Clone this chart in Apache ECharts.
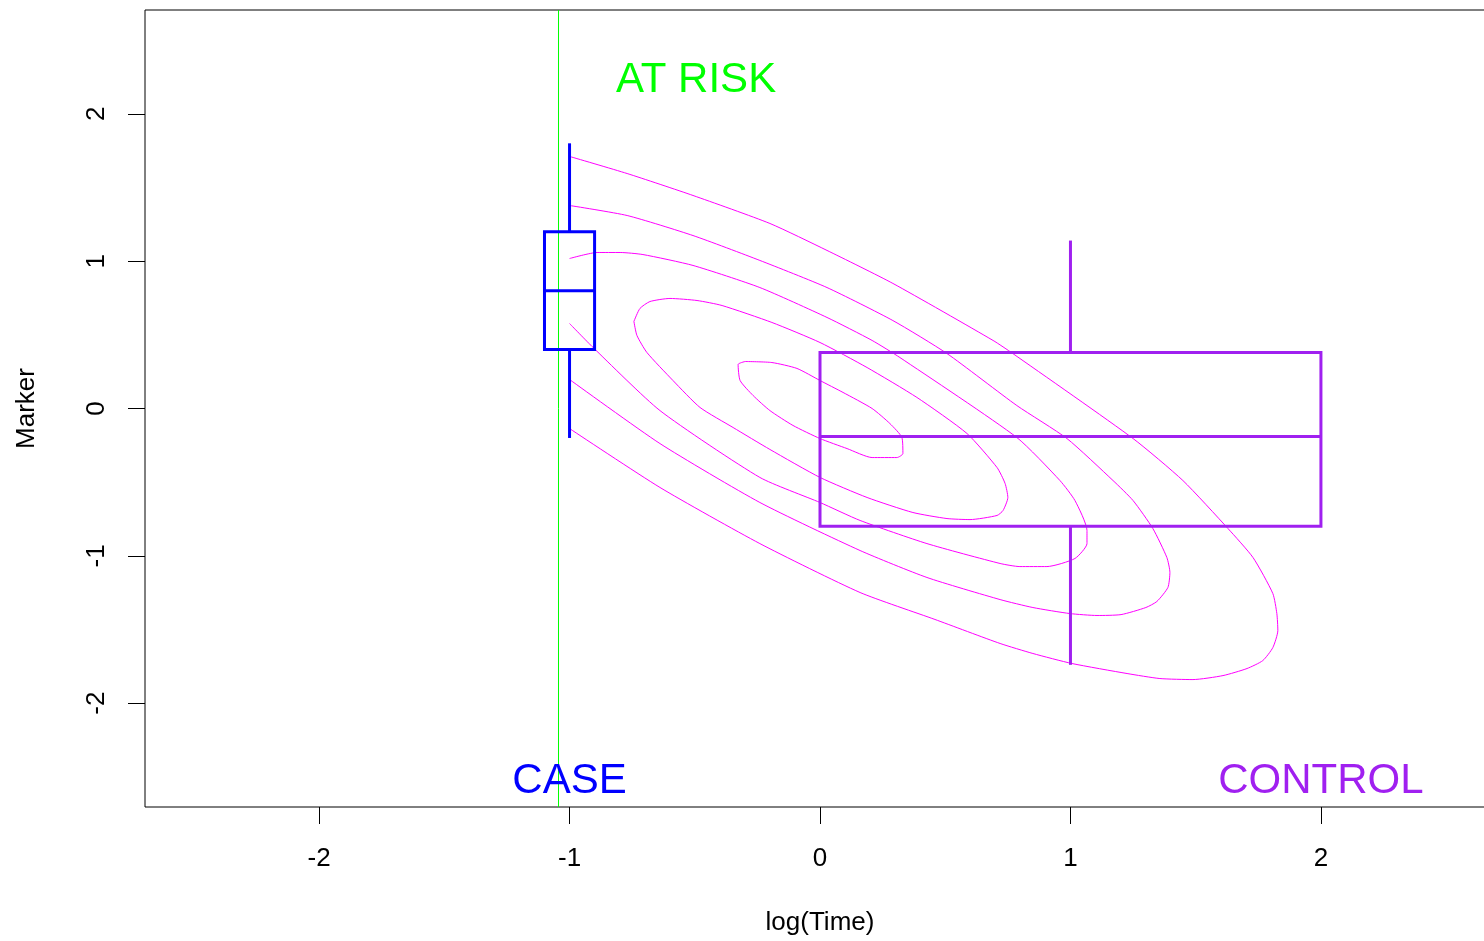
<!DOCTYPE html>
<html>
<head>
<meta charset="utf-8">
<script src="https://cdn.jsdelivr.net/npm/echarts@6/dist/echarts.min.js"></script>
<style>
  html, body { margin: 0; padding: 0; background: #ffffff; }
  #chart { width: 1484px; height: 941px; }
</style>
</head>
<body>
<div id="chart"></div>
<script>
// Tick values for both axes
const xTicks = [-2, -1, 0, 1, 2];
const yTicks = [-2, -1, 0, 1, 2];

// Density contours of (log(Time), Marker), outermost first; open ones are cut at log(Time) = -1
const contour1 = [
  [-1.0, 1.711], [-0.770, 1.595], [-0.507, 1.446], [-0.200, 1.256], [0.028, 1.073],
  [0.291, 0.849], [0.691, 0.462], [0.770, 0.373], [1.250, -0.204], [1.449, -0.489],
  [1.629, -0.815], [1.729, -1.012], [1.808, -1.256], [1.824, -1.392], [1.828, -1.507],
  [1.808, -1.623], [1.768, -1.711], [1.705, -1.765], [1.609, -1.813], [1.489, -1.840],
  [1.357, -1.833], [1.226, -1.799], [1.006, -1.731], [0.850, -1.663], [0.719, -1.595],
  [0.459, -1.432], [0.160, -1.249], [-0.240, -0.917], [-0.639, -0.536], [-1.0, -0.136]
];
const contour2 = [
  [-1.0, 1.378], [-0.770, 1.310], [-0.507, 1.174], [-0.240, 1.005], [0.028, 0.821],
  [0.291, 0.597], [0.507, 0.373], [0.786, 0.020], [0.986, -0.204], [1.170, -0.489],
  [1.250, -0.625], [1.329, -0.815], [1.385, -1.012], [1.397, -1.113], [1.389, -1.215],
  [1.345, -1.310], [1.301, -1.351], [1.202, -1.399], [1.106, -1.405], [0.998, -1.392],
  [0.850, -1.351], [0.719, -1.297], [0.427, -1.147], [0.160, -0.964], [-0.240, -0.638],
  [-0.639, -0.238], [-1.0, 0.197]
];
const contour3 = [
  [-1.0, 1.018], [-0.890, 1.059], [-0.798, 1.059], [-0.707, 1.045], [-0.507, 0.971],
  [-0.240, 0.821], [0.028, 0.618], [0.208, 0.462], [0.319, 0.346], [0.786, -0.197],
  [0.958, -0.489], [1.018, -0.625], [1.066, -0.828], [1.066, -0.917], [1.018, -1.018],
  [0.906, -1.073], [0.798, -1.073], [0.719, -1.052], [0.427, -0.917], [0.160, -0.760],
  [0.0, -0.638], [-0.240, -0.468], [-0.639, -0.014], [-0.906, 0.414], [-1.0, 0.577]
];
const contour4 = [
  [-0.743, 0.591], [-0.719, 0.679], [-0.679, 0.726], [-0.599, 0.747], [-0.491, 0.733],
  [-0.391, 0.699], [-0.192, 0.584], [0.0, 0.448], [0.188, 0.278], [0.387, 0.075],
  [0.587, -0.170], [0.707, -0.401], [0.739, -0.509], [0.750, -0.604], [0.731, -0.692],
  [0.707, -0.726], [0.599, -0.754], [0.507, -0.747], [0.371, -0.706], [0.188, -0.604],
  [0.0, -0.468], [-0.200, -0.278], [-0.347, -0.129], [-0.479, 0.007], [-0.587, 0.190],
  [-0.691, 0.380], [-0.731, 0.496], [-0.743, 0.591]
];
const contour5 = [
  [-0.299, 0.319], [-0.327, 0.299], [-0.319, 0.190], [-0.267, 0.088], [-0.200, -0.014],
  [-0.108, -0.115], [0.0, -0.204], [0.108, -0.272], [0.208, -0.333], [0.307, -0.333],
  [0.331, -0.306], [0.327, -0.197], [0.279, -0.102], [0.208, 0.0], [0.092, 0.109],
  [0.0, 0.190], [-0.092, 0.272], [-0.192, 0.312], [-0.299, 0.319]
];

// Box summaries: [position, min, Q1, median, Q3, max]
const caseBox = [-1, -0.2, 0.4, 0.8, 1.2, 1.8];
const controlBox = [1, -1.74, -0.8, -0.19, 0.38, 1.14];

// Time of the at-risk line
const atRiskTime = [-1.044];

// Group labels: [x, y, text]
const atRiskLabel = [-0.495, 2.224, 'AT RISK'];
const caseLabel = [-1, -2.533, 'CASE'];
const controlLabel = [2, -2.533, 'CONTROL'];

const FONT = '"Liberation Sans", Arial, Helvetica, sans-serif';
const MAGENTA = '#FF00FF';
const BLUE = '#0000FF';
const PURPLE = '#A020F0';
const GREEN = '#00FF00';

const chart = echarts.init(document.getElementById('chart'), null, { renderer: 'canvas' });

function contourSeries(points) {
  return {
    type: 'line',
    data: points,
    showSymbol: false,
    symbol: 'none',
    smooth: 0.2,
    silent: true,
    z: 2,
    lineStyle: { color: MAGENTA, width: 1 }
  };
}

// Box-and-whisker drawn through the axis scales; halfWidth is in log(Time) units
function boxSeries(row, halfWidth, color) {
  return {
    type: 'custom',
    data: [row],
    encode: { x: 0, y: [1, 2, 3, 4, 5] },
    silent: true,
    z: 4,
    renderItem: function (params, api) {
      const x = api.value(0);
      const lo = api.value(1), q1 = api.value(2), med = api.value(3), q3 = api.value(4), hi = api.value(5);
      const bl = api.coord([x - halfWidth, q1]);
      const tr = api.coord([x + halfWidth, q3]);
      const mL = api.coord([x - halfWidth, med]);
      const mR = api.coord([x + halfWidth, med]);
      const c = api.coord([x, q3]);
      const top = api.coord([x, hi]);
      const cb = api.coord([x, q1]);
      const bot = api.coord([x, lo]);
      const st = { stroke: color, lineWidth: 3, fill: null };
      return {
        type: 'group',
        children: [
          { type: 'line', shape: { x1: c[0], y1: c[1], x2: top[0], y2: top[1] }, style: st },
          { type: 'line', shape: { x1: cb[0], y1: cb[1], x2: bot[0], y2: bot[1] }, style: st },
          { type: 'rect', shape: { x: bl[0], y: tr[1], width: tr[0] - bl[0], height: bl[1] - tr[1] }, style: st },
          { type: 'line', shape: { x1: mL[0], y1: mL[1], x2: mR[0], y2: mR[1] }, style: st }
        ]
      };
    }
  };
}

// Vertical reference line spanning the full plot height
function verticalLineSeries(values, color) {
  return {
    type: 'custom',
    data: values.map(function (v) { return [v, 0]; }),
    encode: { x: 0, y: 1 },
    silent: true,
    z: 3,
    renderItem: function (params, api) {
      const p = api.coord([api.value(0), 0]);
      const cs = params.coordSys;
      return {
        type: 'line',
        shape: { x1: p[0], y1: cs.y, x2: p[0], y2: cs.y + cs.height },
        style: { stroke: color, lineWidth: 1 }
      };
    }
  };
}

function textSeries(item, color) {
  return {
    type: 'custom',
    data: [item],
    encode: { x: 0, y: 1 },
    silent: true,
    z: 5,
    renderItem: function (params, api) {
      const p = api.coord([api.value(0), api.value(1)]);
      return {
        type: 'text',
        x: p[0],
        y: p[1],
        style: {
          text: item[2],
          fill: color,
          font: '42px ' + FONT,
          align: 'center',
          verticalAlign: 'middle'
        }
      };
    }
  };
}

const option = {
  backgroundColor: '#ffffff',
  animation: false,
  grid: {
    left: 145, top: 10, width: 1350, height: 797,
    outerBoundsMode: 'none',
    containLabel: false,
    show: true, borderColor: '#000000', borderWidth: 1,
    backgroundColor: 'transparent'
  },
  xAxis: {
    type: 'value',
    min: -2.695, max: 2.695,
    axisLine: { show: false, onZero: false },
    splitLine: { show: false },
    axisTick: { show: true, customValues: xTicks, length: 17, inside: false, lineStyle: { color: '#000', width: 1 } },
    axisLabel: { customValues: xTicks, fontSize: 26, color: '#000', margin: 39, fontFamily: FONT },
    name: 'log(Time)',
    nameLocation: 'middle',
    nameGap: 103,
    nameTextStyle: { fontSize: 26, color: '#000', fontFamily: FONT }
  },
  yAxis: {
    type: 'value',
    min: -2.705, max: 2.705,
    axisLine: { show: false, onZero: false },
    splitLine: { show: false },
    axisTick: { show: true, customValues: yTicks, length: 17, inside: false, lineStyle: { color: '#000', width: 1 } },
    axisLabel: { customValues: yTicks, fontSize: 26, color: '#000', margin: 35, rotate: 90, fontFamily: FONT },
    name: 'Marker',
    nameLocation: 'middle',
    nameGap: 105,
    nameRotate: 90,
    nameTextStyle: { fontSize: 26, color: '#000', fontFamily: FONT }
  },
  series: [
    contourSeries(contour1),
    contourSeries(contour2),
    contourSeries(contour3),
    contourSeries(contour4),
    contourSeries(contour5),
    verticalLineSeries(atRiskTime, GREEN),
    boxSeries(caseBox, 0.1, BLUE),
    boxSeries(controlBox, 1.0, PURPLE),
    textSeries(atRiskLabel, GREEN),
    textSeries(caseLabel, BLUE),
    textSeries(controlLabel, PURPLE)
  ]
};

chart.setOption(option);
</script>
</body>
</html>
